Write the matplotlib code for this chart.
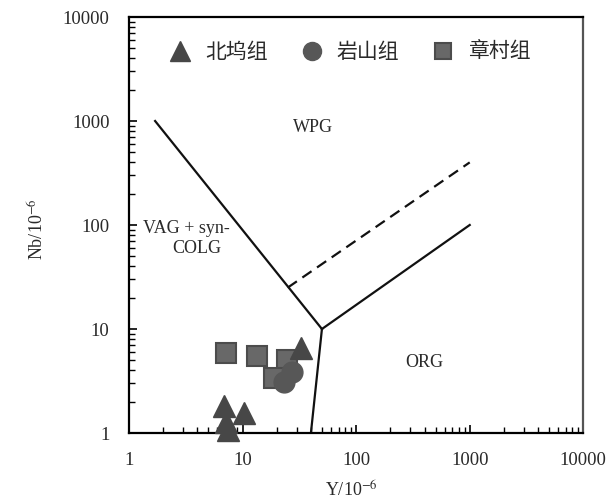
import numpy as np
import matplotlib
matplotlib.use("Agg")
import matplotlib.pyplot as plt
from matplotlib.lines import Line2D
from matplotlib.ticker import LogLocator, NullFormatter, FixedFormatter, FixedLocator

plt.rcParams["font.family"] = ["Liberation Serif", "DejaVu Serif"]
plt.rcParams["mathtext.fontset"] = "stix"

INK = "#2a2a2a"

# ---- sample data (Y, Nb in ppm) -----------------------------------------
beiwu_y = [33, 6.9, 10.4, 7.2, 7.5]
beiwu_nb = [6.6, 1.8, 1.55, 1.28, 1.08]
yanshan_y = [23, 27]
yanshan_nb = [3.1, 3.9]
zhangcun_y = [7.2, 13.5, 24.8, 19.1]
zhangcun_nb = [5.9, 5.5, 5.0, 3.4]

# ---- discrimination boundaries (Pearce et al. 1984) ---------------------
vag_wpg_x = [1.7, 50]
vag_wpg_y = [1000, 10]
wpg_org_x = [50, 1000]
wpg_org_y = [10, 100]
vag_org_x = [50, 40]
vag_org_y = [10, 1]
dash_x = [25, 1000]
dash_y = [25, 400]

ticks = [1, 10, 100, 1000, 10000]
tick_labels = ["1", "10", "100", "1000", "10000"]

fig = plt.figure(figsize=(6.14, 5.0), dpi=100)
ax = fig.add_axes([0.210, 0.134, 0.740, 0.832])
ax.set_xscale("log")
ax.set_yscale("log")
ax.set_xlim(1, 10000)
ax.set_ylim(1, 10000)

lw = 1.6
ax.plot(vag_wpg_x, vag_wpg_y, color="#111111", lw=lw)
ax.plot(wpg_org_x, wpg_org_y, color="#111111", lw=lw)
ax.plot(vag_org_x, vag_org_y, color="#111111", lw=lw)
ax.plot(dash_x, dash_y, color="#111111", lw=lw, ls=(0, (5, 3)))

sq_style = dict(marker="s", mfc="#686868", mec="#4c4c4c", mew=1.5)
ci_style = dict(marker="o", mfc="#575757", mec="#575757")
tr_style = dict(marker="^", mfc="#474747", mec="#474747")

ax.plot(zhangcun_y, zhangcun_nb, ls="none", ms=15, zorder=3, **sq_style)
ax.plot(yanshan_y, yanshan_nb, ls="none", ms=15, zorder=4, **ci_style)
ax.plot(beiwu_y, beiwu_nb, ls="none", ms=16, zorder=5, clip_on=False, **tr_style)

ax.text(42, 870, "WPG", fontsize=13, ha="center", va="center", color=INK)
ax.text(3.2, 93, "VAG + syn-", fontsize=13, ha="center", va="center", color=INK)
ax.text(3.95, 60, "COLG", fontsize=13, ha="center", va="center", color=INK)
ax.text(400, 4.8, "ORG", fontsize=13, ha="center", va="center", color=INK)

for s in ["top", "left", "bottom"]:
    ax.spines[s].set_linewidth(1.6)
ax.spines["right"].set_linewidth(1.6)
ax.spines["right"].set_color("#555555")
ax.xaxis.set_major_locator(FixedLocator(ticks))
ax.yaxis.set_major_locator(FixedLocator(ticks))
ax.xaxis.set_major_formatter(FixedFormatter(tick_labels))
ax.yaxis.set_major_formatter(FixedFormatter(tick_labels))
ax.xaxis.set_minor_locator(LogLocator(base=10, subs=np.arange(2, 10)))
ax.yaxis.set_minor_locator(LogLocator(base=10, subs=np.arange(2, 10)))
ax.xaxis.set_minor_formatter(NullFormatter())
ax.yaxis.set_minor_formatter(NullFormatter())
ax.tick_params(which="major", direction="in", length=6, width=1.2,
               labelsize=13.5, labelcolor=INK, pad=14)
ax.tick_params(which="minor", direction="in", length=4, width=1.0)

ax.set_xlabel("Y/10$^{-6}$", fontsize=13, color=INK)
ax.set_ylabel("Nb/10$^{-6}$", fontsize=13, color=INK)
ax.xaxis.set_label_coords(0.49, -0.115)
ax.yaxis.set_label_coords(-0.178, 0.49)

handles = [
    Line2D([], [], ls="none", ms=14, **tr_style),
    Line2D([], [], ls="none", ms=13, **ci_style),
    Line2D([], [], ls="none", ms=11, **sq_style),
]
labels = ["北坞组", "岩山组", "章村组"]
ax.legend(handles, labels, loc="center", bbox_to_anchor=(0.487, 0.916), ncol=3,
          frameon=False, handlelength=1.0, handletextpad=0.7, columnspacing=1.6,
          labelcolor=INK, prop={"family": ["Noto Sans CJK SC"], "size": 15})

fig.savefig("out.png", dpi=100)
